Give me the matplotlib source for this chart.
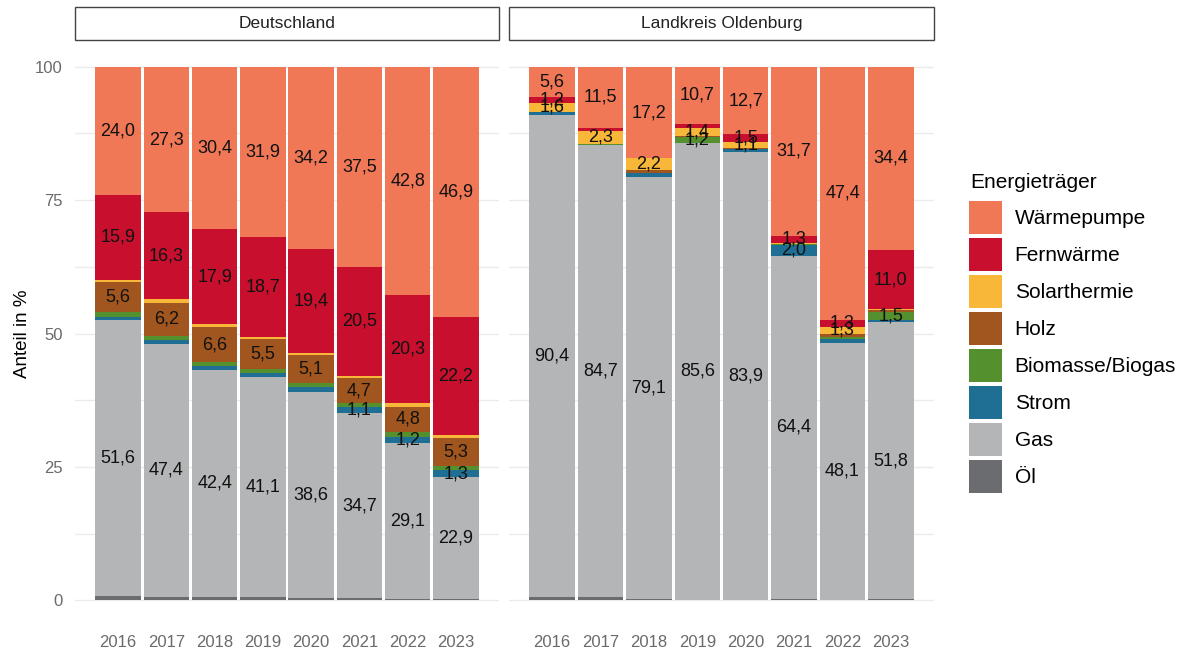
import matplotlib.pyplot as plt
from matplotlib.patches import Patch, Rectangle
import numpy as np

plt.rcParams['font.family'] = ['Liberation Sans', 'DejaVu Sans']

YEARS = ["2016", "2017", "2018", "2019", "2020", "2021", "2022", "2023"]
CARRIERS = ["Öl", "Gas", "Strom", "Biomasse/Biogas", "Holz", "Solarthermie", "Fernwärme", "Wärmepumpe"]
COLORS = ["#6b6c70", "#b4b5b7", "#1f6f94", "#55902e", "#a0561e", "#f8b738", "#c8102e", "#f07857"]

# shares in %, one list per carrier (order of CARRIERS), years 2016..2023
de_oel = [0.9, 0.7, 0.7, 0.7, 0.5, 0.4, 0.3, 0.2]
de_gas = [51.6, 47.4, 42.4, 41.1, 38.6, 34.7, 29.1, 22.9]
de_strom = [0.6, 0.6, 0.8, 0.8, 0.9, 1.1, 1.2, 1.3]
de_bio = [0.9, 0.9, 0.7, 0.8, 0.8, 0.7, 0.9, 0.7]
de_holz = [5.6, 6.2, 6.6, 5.5, 5.1, 4.7, 4.8, 5.3]
de_solar = [0.5, 0.6, 0.5, 0.5, 0.5, 0.4, 0.6, 0.5]
de_fern = [15.9, 16.3, 17.9, 18.7, 19.4, 20.5, 20.3, 22.2]
de_wp = [24.0, 27.3, 30.4, 31.9, 34.2, 37.5, 42.8, 46.9]

lk_oel = [0.6, 0.6, 0.3, 0.1, 0.1, 0.2, 0.1, 0.3]
lk_gas = [90.4, 84.7, 79.1, 85.6, 83.9, 64.4, 48.1, 51.8]
lk_strom = [0.6, 0.0, 0.6, 0.0, 0.5, 2.0, 0.8, 0.5]
lk_bio = [0.0, 0.3, 0.1, 1.2, 0.1, 0.1, 0.4, 1.5]
lk_holz = [0.0, 0.0, 0.5, 0.2, 0.1, 0.1, 0.6, 0.3]
lk_solar = [1.6, 2.3, 2.2, 1.4, 1.1, 0.2, 1.3, 0.2]
lk_fern = [1.2, 0.6, 0.0, 0.8, 1.5, 1.3, 1.3, 11.0]
lk_wp = [5.6, 11.5, 17.2, 10.7, 12.7, 31.7, 47.4, 34.4]

PANELS = [
    ("Deutschland", [de_oel, de_gas, de_strom, de_bio, de_holz, de_solar, de_fern, de_wp]),
    ("Landkreis Oldenburg", [lk_oel, lk_gas, lk_strom, lk_bio, lk_holz, lk_solar, lk_fern, lk_wp]),
]

fig = plt.figure(figsize=(11.96, 6.53), dpi=100)
W, H = 1196, 653
panel_px = [(75, 499), (509, 934)]
top_px, bot_px = 40, 627

x = np.arange(len(YEARS))
for i, ((title, series), (x0, x1)) in enumerate(zip(PANELS, panel_px)):
    ax = fig.add_axes([x0 / W, 1 - bot_px / H, (x1 - x0) / W, (bot_px - top_px) / H])
    ax.set_xlim(-0.89, 7.89)
    ax.set_ylim(-5, 105)
    for gy in np.arange(0, 101, 12.5):
        ax.axhline(gy, color="#ebebeb", lw=1.0, zorder=0)
    bottom = np.zeros(len(YEARS))
    for vals, col in zip(series, COLORS):
        v = np.array(vals)
        ax.bar(x, v, bottom=bottom, width=0.94, color=col, linewidth=0, zorder=2)
        for xi, b, val in zip(x, bottom, v):
            if val >= 1:
                ax.text(xi, b + val / 2, f"{val:.1f}".replace(".", ","), ha="center", va="center",
                        fontsize=13, color="#111111", zorder=3)
        bottom += v
    for s in ax.spines.values():
        s.set_visible(False)
    ax.set_xticks(x)
    ax.set_xticklabels(YEARS, fontsize=12, color="#6a6a6a")
    ax.tick_params(axis="x", length=0, pad=6)
    ax.tick_params(axis="y", length=0, pad=9)
    ax.set_yticks([0, 25, 50, 75, 100])
    if i == 0:
        ax.set_yticklabels(["0", "25", "50", "75", "100"], fontsize=12, color="#6a6a6a")
        ax.set_ylabel("Anteil in %", fontsize=13.5, labelpad=3)
    else:
        ax.set_yticklabels([])
    # facet strip
    fig.patches.append(Rectangle((x0 / W, 1 - 40 / H), (x1 - x0) / W, 33 / H,
                                 transform=fig.transFigure, facecolor="white",
                                 edgecolor="#444444", lw=1.0))
    fig.text((x0 + x1) / 2 / W, 1 - 23.5 / H, title, ha="center", va="center",
             fontsize=12.5, color="#222222")

handles = [Patch(facecolor=c, edgecolor="none", label=l)
           for l, c in zip(CARRIERS[::-1], COLORS[::-1])]
fig.legend(handles=handles, loc="upper left",
           bbox_to_anchor=(961 / W, 1 - 193 / H), frameon=False,
           fontsize=15, handlelength=1.58, handleheight=2.06,
           labelspacing=0.19, handletextpad=0.6, borderaxespad=0)
fig.text(970 / W, 1 - 183 / H, "Energieträger", ha="left", va="center", fontsize=15)

fig.savefig("out.png", dpi=100)
